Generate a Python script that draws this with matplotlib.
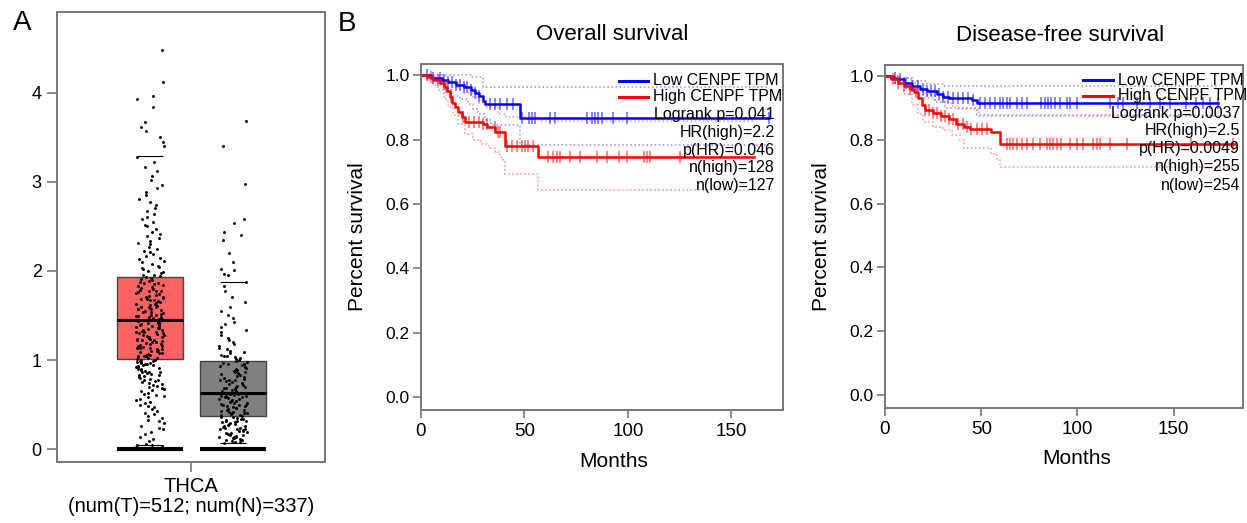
import numpy as np
import matplotlib
matplotlib.use("Agg")
import matplotlib.pyplot as plt

plt.rcParams['font.family'] = ['Liberation Sans', 'DejaVu Sans']

# ---- panel A: expression (TPM) ----
tumor_tpm = [0.02, 0.03, 0.04, 0.05, 0.06, 0.09, 0.11, 0.14, 0.17, 0.19, 0.22, 0.24, 0.26, 0.29, 0.31,
             0.33, 0.35, 0.37, 0.39, 0.41, 0.43, 0.45, 0.47, 0.48, 0.5, 0.52, 0.53, 0.55, 0.56, 0.58,
             0.59, 0.61, 0.62, 0.63, 0.65, 0.66, 0.67, 0.69, 0.7, 0.71, 0.72, 0.73, 0.74, 0.75, 0.76,
             0.77, 0.78, 0.79, 0.8, 0.81, 0.82, 0.83, 0.83, 0.84, 0.85, 0.86, 0.87, 0.87, 0.88, 0.89,
             0.9, 0.9, 0.91, 0.92, 0.92, 0.93, 0.94, 0.94, 0.95, 0.96, 0.96, 0.97, 0.97, 0.98, 0.98,
             0.99, 0.99, 1.0, 1.0, 1.01,
             1.02, 1.02, 1.03, 1.04, 1.04, 1.05, 1.06, 1.06, 1.07, 1.08, 1.08, 1.09, 1.1, 1.1, 1.11,
             1.12, 1.12, 1.13, 1.14, 1.14, 1.15, 1.16, 1.16, 1.17, 1.18, 1.18, 1.19, 1.2, 1.2, 1.21,
             1.22, 1.22, 1.23, 1.24, 1.24, 1.25, 1.26, 1.26, 1.27, 1.28, 1.28, 1.29, 1.3, 1.3, 1.31,
             1.32, 1.32, 1.33, 1.34, 1.34, 1.35, 1.36, 1.36, 1.37, 1.38, 1.38, 1.39, 1.4, 1.4, 1.41,
             1.42, 1.42, 1.43, 1.44, 1.44, 1.45,
             1.46, 1.46, 1.47, 1.48, 1.48, 1.49, 1.5, 1.51, 1.51, 1.52, 1.53, 1.54, 1.54, 1.55, 1.56,
             1.57, 1.57, 1.58, 1.59, 1.6, 1.6, 1.61, 1.62, 1.63, 1.63, 1.64, 1.65, 1.66, 1.67, 1.67,
             1.68, 1.69, 1.7, 1.71, 1.71, 1.72, 1.73, 1.74, 1.75, 1.76, 1.77, 1.77, 1.78, 1.79, 1.8,
             1.81, 1.82, 1.83, 1.84, 1.85, 1.86, 1.87, 1.88, 1.89, 1.9, 1.91, 1.92, 1.93,
             1.94, 1.95, 1.96, 1.98, 1.99, 2.0, 2.02, 2.03, 2.05, 2.06, 2.08, 2.1, 2.11, 2.13, 2.15,
             2.17, 2.19, 2.21, 2.23, 2.25, 2.27, 2.3, 2.32, 2.34, 2.37, 2.39, 2.42, 2.44, 2.47, 2.5,
             2.52, 2.55, 2.58, 2.61, 2.64, 2.67, 2.71, 2.74, 2.77, 2.81, 2.85, 2.89, 2.93, 2.97, 3.02,
             3.07, 3.12, 3.17, 3.22, 3.28,
             3.4, 3.45, 3.5, 3.57, 3.62, 3.67, 3.84, 3.93, 3.97, 4.12, 4.48]
normal_tpm = [0.07, 0.08, 0.08, 0.09, 0.1, 0.1, 0.11, 0.12, 0.12, 0.13, 0.14, 0.14, 0.15, 0.16, 0.16,
              0.17, 0.18, 0.18, 0.19, 0.2, 0.2, 0.21, 0.22, 0.22, 0.23, 0.24, 0.24, 0.25, 0.26, 0.26,
              0.27, 0.28, 0.28, 0.29, 0.3, 0.3, 0.31, 0.32, 0.32, 0.33, 0.34, 0.34, 0.35, 0.36, 0.36,
              0.37, 0.38, 0.38, 0.39, 0.4, 0.4, 0.41, 0.42, 0.42, 0.43, 0.44, 0.44, 0.45, 0.46, 0.46,
              0.47, 0.48, 0.48, 0.49, 0.5, 0.5, 0.51, 0.52, 0.52, 0.53, 0.54, 0.54, 0.55, 0.56, 0.56,
              0.57, 0.58, 0.58, 0.59, 0.6, 0.6, 0.61, 0.62, 0.62, 0.63,
              0.64, 0.65, 0.65, 0.66, 0.67, 0.68, 0.69, 0.7, 0.7, 0.71, 0.72, 0.73, 0.74, 0.75, 0.76,
              0.77, 0.77, 0.78, 0.79, 0.8, 0.81, 0.82, 0.83, 0.84, 0.85, 0.86, 0.87, 0.88, 0.89, 0.9,
              0.91, 0.92, 0.93, 0.94, 0.95, 0.96, 0.97, 0.98, 0.99,
              1.0, 1.01, 1.02, 1.03, 1.04, 1.05, 1.06, 1.08, 1.09, 1.1, 1.12, 1.14, 1.16, 1.18, 1.2,
              1.22, 1.25, 1.28, 1.31, 1.34, 1.37, 1.4, 1.43, 1.47, 1.51, 1.55, 1.6, 1.65, 1.71, 1.77,
              1.83, 1.88,
              1.95, 1.97, 2.01, 2.02, 2.1, 2.2, 2.35, 2.4, 2.44, 2.54, 2.58, 2.98, 3.4, 3.69]
# box stats: q1, median, q3, lower whisker, upper whisker
tumor_box = [1.01, 1.45, 1.93, 0.04, 3.29]
normal_box = [0.37, 0.63, 0.99, 0.07, 1.88]
box_colors = ['#ff6262', '#808080']
group_label = 'THCA'
count_label = '(num(T)=512; num(N)=337)'

# ---- panel B: Kaplan-Meier curves (months, survival) ----
os_low_t = [0, 5, 10, 13, 17, 21, 24, 26, 28, 30, 31, 48]
os_low_s = [1.0, 0.99, 0.985, 0.978, 0.97, 0.963, 0.955, 0.945, 0.935, 0.92, 0.91, 0.868]
os_low_end = 168
os_low_up_t = [0, 24, 30]
os_low_up_s = [1.0, 0.995, 0.965]
os_low_lo_t = [0, 4, 8, 11, 14.8, 19, 22.9, 25, 27.7, 31, 34, 47.9]
os_low_lo_s = [1.0, 0.99, 0.97, 0.955, 0.937, 0.925, 0.911, 0.895, 0.88, 0.86, 0.844, 0.782]
os_low_cens = [3, 6, 9, 11, 13, 15, 17, 19, 21, 22, 24, 26, 28, 33.4, 35.8, 38.2, 41.5, 44.7, 48.7,
               52, 53.6, 55, 62.4, 64.9, 80.2, 82.6, 84.2, 85.8, 87.5, 93, 99.6, 168]

os_high_t = [0, 3, 6, 9, 11, 12.5, 14, 15, 16.5, 18, 20, 21.5, 30, 32, 36, 40.7, 56.8]
os_high_s = [1.0, 0.995, 0.985, 0.975, 0.963, 0.952, 0.932, 0.915, 0.9, 0.885, 0.87, 0.855, 0.847,
             0.839, 0.823, 0.781, 0.745]
os_high_end = 161
os_high_up_t = [0, 5, 9, 13, 18, 21, 24.5, 28, 31, 37, 41, 57]
os_high_up_s = [1.0, 0.995, 0.985, 0.975, 0.958, 0.945, 0.932, 0.915, 0.9, 0.88, 0.87, 0.857]
os_high_lo_t = [0, 3, 6, 8.4, 11, 13.2, 15.5, 18, 21.3, 25, 29, 33, 35.8, 38, 39.8, 40.7, 56.8]
os_high_lo_s = [1.0, 0.985, 0.97, 0.953, 0.925, 0.9, 0.875, 0.849, 0.818, 0.8, 0.787, 0.775, 0.761,
                0.745, 0.735, 0.693, 0.643]
os_high_cens = [5, 8, 12, 14.5, 20.4, 23, 25.5, 27.8, 30, 31.8, 35.8, 37.3, 38.2, 41.5, 43.9, 46.3,
                48.7, 50.3, 51.9, 54.3, 61.6, 64, 65.7, 67.3, 72.1, 77, 85, 89.9, 95.5, 99.6, 107.6,
                109.2, 110.8, 125.4]

dfs_low_t = [0, 3, 6, 10, 14, 18, 22, 27, 30, 33, 45, 48]
dfs_low_s = [1.0, 0.995, 0.99, 0.98, 0.97, 0.96, 0.953, 0.945, 0.935, 0.93, 0.925, 0.915]
dfs_low_end = 173
dfs_low_up_t = [0, 8, 14, 22, 30]
dfs_low_up_s = [1.0, 0.995, 0.985, 0.975, 0.968]
dfs_low_lo_t = [0, 5, 12, 20, 26, 31, 48]
dfs_low_lo_s = [1.0, 0.98, 0.96, 0.94, 0.92, 0.9, 0.877]
dfs_low_cens = [5, 8, 11, 14, 17, 20, 22, 24, 26, 28, 30, 32.9, 35.5, 38.1, 40.7, 43.3, 45.9, 49.3,
                51.9, 54.5, 57.1, 59.7, 61.4, 63.2, 64.9, 68.4, 71, 73.6, 81.3, 83.1, 84.8, 86.5,
                88.3, 90.9, 94.3, 96.1, 99.5, 116.8, 121.1, 123.7, 130.7, 137.6, 142.8, 148,
                156.6, 161.8, 165.3, 168.7, 173]

dfs_high_t = [0, 3, 7, 10, 13, 15, 17, 19, 21, 25, 29, 33, 37, 41, 44, 55, 60]
dfs_high_s = [1.0, 0.99, 0.98, 0.97, 0.96, 0.95, 0.93, 0.91, 0.895, 0.885, 0.875, 0.865, 0.85, 0.84,
              0.835, 0.825, 0.788]
dfs_high_end = 182
dfs_high_up_t = [0, 8, 13.5, 16, 18, 20.8, 25, 31, 35, 38, 49]
dfs_high_up_s = [1.0, 0.993, 0.98, 0.965, 0.95, 0.932, 0.925, 0.917, 0.905, 0.896, 0.875]
dfs_high_lo_t = [0, 5, 10, 14, 17, 20, 25, 30, 35, 39, 41, 55, 58, 60]
dfs_high_lo_s = [1.0, 0.975, 0.945, 0.91, 0.88, 0.855, 0.84, 0.83, 0.815, 0.8, 0.775, 0.757, 0.74, 0.715]
dfs_high_cens = [4, 7, 10, 13, 16, 21, 23, 25, 27, 29, 31, 33, 35.5, 38.1, 40.7, 42.4, 44.9, 47.6,
                 50.2, 52.8, 63.2, 64.9, 66.6, 68.4, 71, 73.6, 77, 80.5, 84, 85.7, 87.5, 89.2, 91.7,
                 96.1, 99.5, 103, 108.2, 109.9, 111.6, 116.8, 125.5, 159.2, 180.8]

os_stats = ['Logrank p=0.041', 'HR(high)=2.2', 'p(HR)=0.046', 'n(high)=128', 'n(low)=127']
dfs_stats = ['Logrank p=0.0037', 'HR(high)=2.5', 'p(HR)=0.0049', 'n(high)=255', 'n(low)=254']
legend_labels = ['Low CENPF TPM', 'High CENPF TPM']

W, H = 1247, 523
fig = plt.figure(figsize=(W / 100, H / 100), dpi=100)
SPINE = '#777777'

# ---------------- panel A ----------------
axA = fig.add_axes([57 / W, 1 - 462 / H, 268 / W, 450 / H])
for pos, stats, col in [(0, tumor_box, box_colors[0]), (1, normal_box, box_colors[1])]:
    q1, med, q3, lo, hi = stats
    axA.bxp([dict(q1=q1, med=med, q3=q3, whislo=lo, whishi=hi, fliers=[])], positions=[pos],
            widths=0.8, patch_artist=True, showcaps=False,
            boxprops=dict(facecolor=col, edgecolor='#444444', linewidth=1),
            medianprops=dict(color='black', linewidth=2.2, zorder=4),
            whiskerprops=dict(visible=False))
    axA.hlines([lo, hi], pos - 0.16, pos + 0.16, color='black', linewidth=0.8, zorder=3)
    axA.hlines(0, pos - 0.4, pos + 0.4, color='black', linewidth=3, zorder=3)

# horizontal jitter (position only), deterministic hash of the point index
for pos, vals in [(0, tumor_tpm), (1, normal_tpm)]:
    idx = np.arange(len(vals))
    frac = (np.sin(idx * 12.9898 + pos * 78.233) * 43758.5453) % 1.0
    axA.scatter(pos + (frac - 0.5) * 0.34, vals, s=4.5, color='black', linewidths=0, zorder=3)

axA.set_xlim(-1.12, 2.11)
axA.set_ylim(-0.146, 4.91)
axA.set_xticks([0.5])
axA.set_xticklabels([''])
axA.set_yticks([0, 1, 2, 3, 4])
axA.tick_params(axis='both', labelsize=13, length=7, width=1.2, color=SPINE, pad=4)
for sp in axA.spines.values():
    sp.set_color(SPINE)
    sp.set_linewidth(1.4)
fig.text(191 / W, 1 - 487 / H, group_label, ha='center', va='center', fontsize=14.5)
fig.text(191 / W, 1 - 507 / H, count_label, ha='center', va='center', fontsize=14.5)
fig.text(22 / W, 1 - 23 / H, 'A', ha='center', va='center', fontsize=20)
fig.text(347 / W, 1 - 24 / H, 'B', ha='center', va='center', fontsize=20)


# ---------------- panel B ----------------
def km(ax, t, s, end, color, ls='-', lw=1.8, alpha=1.0):
    tt = list(t) + [end]
    ss = list(s) + [s[-1]]
    ax.step(tt, ss, where='post', color=color, linestyle=ls, linewidth=lw, alpha=alpha)


def censor(ax, t, s, cens, color):
    idx = np.searchsorted(t, cens, side='right') - 1
    ax.plot(cens, np.array(s)[idx], linestyle='none', marker='|', markersize=8,
            markeredgewidth=1.2, color=color, alpha=0.55)


def survival_panel(ax, title, title_x, curves, stats, xmax, leg, xlab_x):
    for c in curves:
        t, s, end, up_t, up_s, lo_t, lo_s, cens, col = c
        km(ax, up_t, up_s, end, col, ls=':', lw=1.1, alpha=0.45)
        km(ax, lo_t, lo_s, end, col, ls=':', lw=1.1, alpha=0.45)
        km(ax, t, s, end, col, lw=1.8)
        censor(ax, t, s, cens, col)
    ax.set_xlim(0, xmax)
    ax.set_ylim(-0.0406, 1.035)
    ax.set_xticks([0, 50, 100, 150])
    ax.set_yticks([0, 0.2, 0.4, 0.6, 0.8, 1.0])
    ax.set_yticklabels(['0.0', '0.2', '0.4', '0.6', '0.8', '1.0'])
    ax.tick_params(axis='x', labelsize=13.5, length=6, width=1.2, color=SPINE, pad=3)
    ax.tick_params(axis='y', labelsize=12.5, length=6, width=1.2, color=SPINE, pad=2)
    for sp in ax.spines.values():
        sp.set_color(SPINE)
        sp.set_linewidth(1.4)
    ax.set_xlabel('Months', fontsize=15)
    ax.xaxis.set_label_coords(xlab_x, -0.12)
    ax.set_ylabel('Percent survival', fontsize=15)
    ax.yaxis.set_label_coords(-0.15, 0.5)
    ax.text(title_x, 1.055, title, transform=ax.transAxes, ha='center', va='bottom', fontsize=16)
    x0, x1, xt, xr, rows = leg
    for i, (lab, col) in enumerate(zip(legend_labels, ['#0000ff', '#ff0000'])):
        ax.plot([x0, x1], [rows[i], rows[i]], transform=ax.transAxes, color=col, linewidth=2.2,
                clip_on=False)
        ax.text(xt, rows[i], lab, transform=ax.transAxes, ha='left', va='center', fontsize=11.5)
    for i, txt in enumerate(stats):
        ax.text(xr, rows[i + 2], txt, transform=ax.transAxes, ha='right', va='center', fontsize=11.5)


axOS = fig.add_axes([421 / W, 1 - 410 / H, 362 / W, 346 / H])
survival_panel(axOS, 'Overall survival', 0.527,
               [(os_low_t, os_low_s, os_low_end, os_low_up_t, os_low_up_s, os_low_lo_t, os_low_lo_s,
                 os_low_cens, '#0000ff'),
                (os_high_t, os_high_s, os_high_end, os_high_up_t, os_high_up_s, os_high_lo_t,
                 os_high_lo_s, os_high_cens, '#ff0000')],
               os_stats, 175,
               (0.547, 0.627, 0.641, 0.978, [0.951, 0.905, 0.853, 0.803, 0.751, 0.702, 0.650]), 0.533)

axDFS = fig.add_axes([885 / W, 1 - 408 / H, 358 / W, 343 / H])
survival_panel(axDFS, 'Disease-free survival', 0.49,
               [(dfs_low_t, dfs_low_s, dfs_low_end, dfs_low_up_t, dfs_low_up_s, dfs_low_lo_t,
                 dfs_low_lo_s, dfs_low_cens, '#0000ff'),
                (dfs_high_t, dfs_high_s, dfs_high_end, dfs_high_up_t, dfs_high_up_s, dfs_high_lo_t,
                 dfs_high_lo_s, dfs_high_cens, '#ff0000')],
               dfs_stats, 186,
               (0.553, 0.637, 0.651, 0.992, [0.956, 0.910, 0.860, 0.808, 0.758, 0.703, 0.650]), 0.536)

fig.savefig('out.png', dpi=100)
